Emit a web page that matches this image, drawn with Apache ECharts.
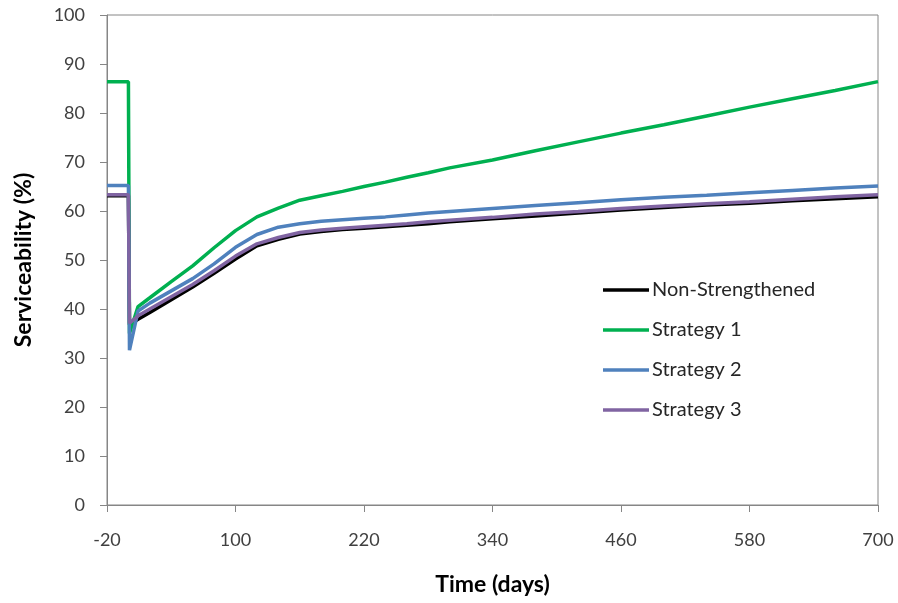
<!DOCTYPE html>
<html>
<head>
<meta charset="utf-8">
<script src="https://cdn.jsdelivr.net/npm/echarts@6/dist/echarts.min.js"></script>
<style>
html,body{margin:0;padding:0;background:#fff;}
#chart{width:898px;height:603px;}
</style>
</head>
<body>
<div id="chart"></div>
<script>
// Time (days) for every sampled point
const days = [-20, 0, 1, 9, 20, 40, 60, 80, 100, 120, 140, 160, 180, 200, 220, 240, 260, 280, 300, 340, 380, 420, 460, 500, 540, 580, 620, 660, 700];

const seriesNames = ['Non-Strengthened', 'Strategy 1', 'Strategy 2', 'Strategy 3'];

const nonStrengthened = [63.1, 63.1, 36.8, 37.9, 39.3, 41.9, 44.5, 47.3, 50.2, 52.9, 54.2, 55.3, 55.8, 56.2, 56.5, 56.8, 57.1, 57.4, 57.8, 58.4, 59.0, 59.6, 60.2, 60.7, 61.2, 61.6, 62.1, 62.5, 62.9];
const strategy1 = [86.4, 86.4, 35.0, 40.5, 42.3, 45.6, 48.8, 52.5, 56.0, 58.8, 60.6, 62.2, 63.1, 64.0, 65.0, 65.9, 66.9, 67.8, 68.8, 70.4, 72.3, 74.1, 75.9, 77.6, 79.4, 81.2, 82.9, 84.6, 86.4];
const strategy2 = [65.2, 65.2, 31.6, 39.6, 41.2, 43.7, 46.2, 49.2, 52.6, 55.2, 56.7, 57.4, 57.9, 58.2, 58.5, 58.8, 59.2, 59.6, 59.9, 60.5, 61.1, 61.7, 62.3, 62.8, 63.2, 63.7, 64.2, 64.7, 65.1];
const strategy3 = [63.3, 63.3, 37.1, 38.6, 40.0, 42.5, 45.0, 47.8, 50.8, 53.3, 54.6, 55.6, 56.1, 56.5, 56.8, 57.1, 57.4, 57.8, 58.1, 58.7, 59.4, 59.9, 60.5, 61.0, 61.5, 61.9, 62.4, 62.9, 63.3];

const xTicks = [-20, 100, 220, 340, 460, 580, 700];
const yTicks = [0, 10, 20, 30, 40, 50, 60, 70, 80, 90, 100];

const colors = ['#000000', '#00B050', '#4F81BD', '#8064A2'];
const values = [nonStrengthened, strategy1, strategy2, strategy3];

const axisGray = '#868686';
const font = 'Lato, "Liberation Sans", sans-serif';

const chart = echarts.init(document.getElementById('chart'), null, {renderer: 'canvas'});
chart.setOption({
  animation: false,
  backgroundColor: '#fff',
  grid: {left: 107, right: 20, top: 15, bottom: 98, show: true, borderColor: axisGray, borderWidth: 1, backgroundColor: 'transparent'},
  legend: {
    orient: 'vertical',
    left: 598,
    top: 275,
    icon: 'rect',
    itemWidth: 46,
    itemHeight: 3.5,
    itemGap: 20,
    data: seriesNames,
    textStyle: {fontFamily: font, fontSize: 20, color: '#262626', padding: [0, 0, 0, -2], lineHeight: 20}
  },
  xAxis: {
    type: 'value',
    min: -20,
    max: 700,
    name: 'Time (days)',
    nameLocation: 'middle',
    nameGap: 68,
    nameTextStyle: {fontFamily: font, fontSize: 23, fontWeight: 'bold', color: '#000'},
    axisLine: {show: true, onZero: false, lineStyle: {color: axisGray, width: 1}},
    axisTick: {show: true, length: 7, lineStyle: {color: axisGray}, customValues: xTicks},
    axisLabel: {fontFamily: font, fontSize: 18, color: '#404040', margin: 26, customValues: xTicks},
    splitLine: {show: false}
  },
  yAxis: {
    type: 'value',
    min: 0,
    max: 100,
    interval: 10,
    name: 'Serviceability (%)',
    nameLocation: 'middle',
    nameGap: 72,
    nameTextStyle: {fontFamily: font, fontSize: 23, fontWeight: 'bold', color: '#000'},
    axisLine: {show: true, onZero: false, lineStyle: {color: axisGray, width: 1}},
    axisTick: {show: true, length: 7, lineStyle: {color: axisGray}},
    axisLabel: {fontFamily: font, fontSize: 18, color: '#404040', margin: 22, customValues: yTicks},
    splitLine: {show: false}
  },
  series: seriesNames.map((name, i) => ({
    name: name,
    type: 'line',
    showSymbol: false,
    symbol: 'none',
    color: colors[i],
    lineStyle: {color: colors[i], width: 3.5},
    z: 2 + i,
    data: days.map((d, j) => [d, values[i][j]])
  }))
});
</script>
</body>
</html>
